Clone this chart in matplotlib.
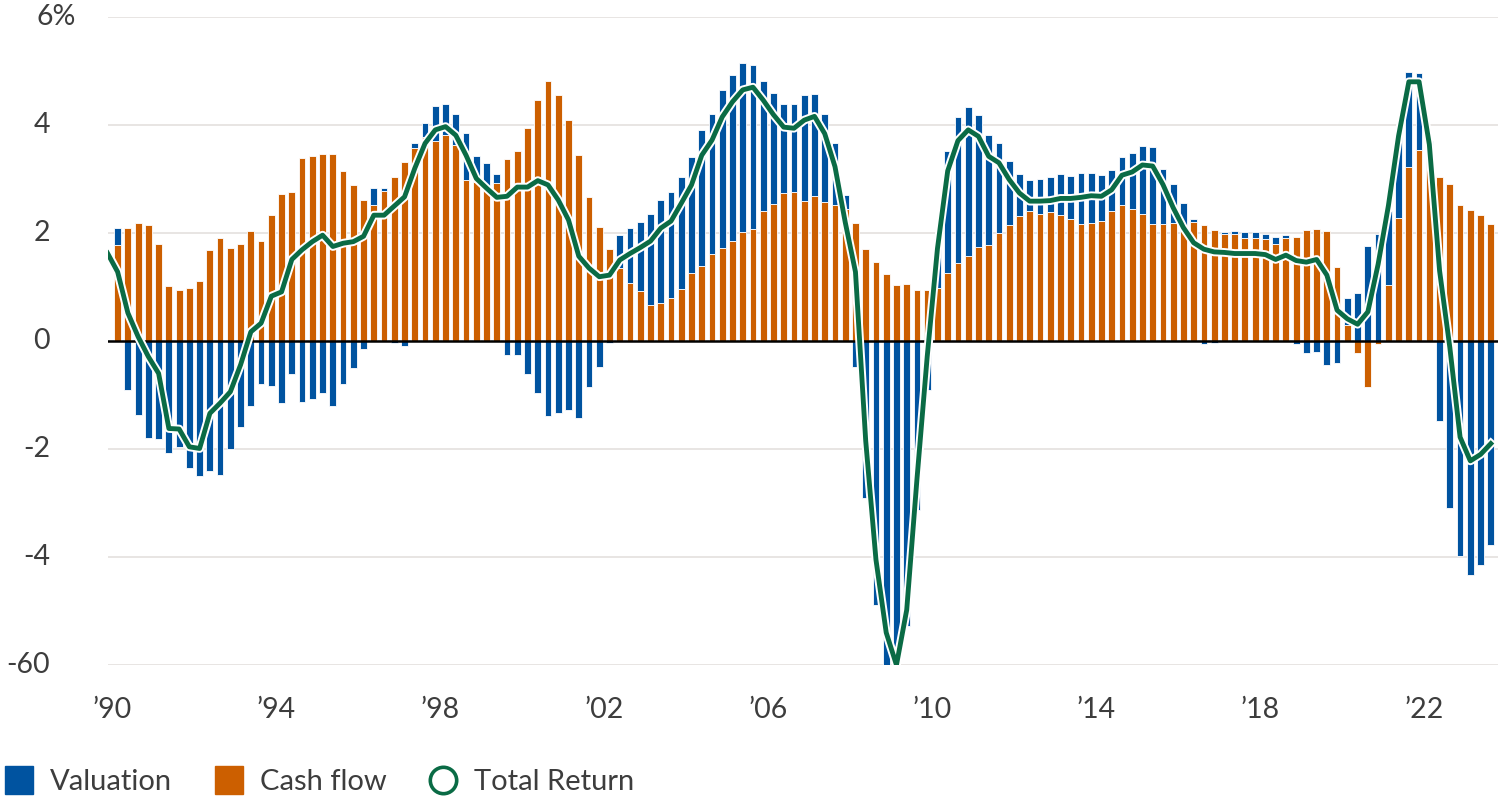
import matplotlib
matplotlib.use('Agg')
import matplotlib.pyplot as plt
import numpy as np
from matplotlib import patheffects as pe
from matplotlib.lines import Line2D

plt.rcParams['font.family'] = ['Lato', 'DejaVu Sans']

# ---------------- data (quarterly, from 1990 Q1) ----------------
start_year = 1990

cash_flow = [
    1.78, 2.10, 2.18, 2.15, 1.79, 1.02, 0.94, 0.98, 1.11, 1.69,
    1.90, 1.73, 1.79, 2.04, 1.85, 2.33, 2.72, 2.76, 3.38, 3.43,
    3.46, 3.46, 3.15, 2.88, 2.61, 2.52, 2.78, 3.04, 3.32, 3.58,
    3.77, 3.71, 3.82, 3.63, 2.98, 2.95, 2.80, 2.92, 3.37, 3.52,
    3.94, 4.46, 4.81, 4.56, 4.09, 3.44, 2.67, 2.12, 1.71, 1.35,
    1.07, 0.93, 0.66, 0.70, 0.79, 0.97, 1.25, 1.38, 1.62, 1.72,
    1.85, 2.01, 2.08, 2.41, 2.53, 2.74, 2.75, 2.59, 2.68, 2.57,
    2.52, 2.45, 2.19, 1.71, 1.47, 1.24, 1.03, 1.05, 0.94, 0.94,
    0.98, 1.26, 1.44, 1.58, 1.74, 1.78, 2.00, 2.15, 2.31, 2.41,
    2.35, 2.39, 2.33, 2.26, 2.17, 2.19, 2.23, 2.40, 2.51, 2.44,
    2.36, 2.16, 2.17, 2.19, 2.04, 2.21, 2.14, 2.05, 1.98, 1.99,
    1.90, 1.90, 1.88, 1.80, 1.91, 1.93, 2.05, 2.08, 2.03, 1.37,
    0.30, -0.22, -0.86, -0.05, 1.04, 2.27, 3.22, 3.54, 3.60, 3.04,
    2.91, 2.51, 2.42, 2.33, 2.17,
]

valuation = [
    0.31, -0.91, -1.37, -1.79, -1.82, -2.08, -1.97, -2.36, -2.50, -2.40,
    -2.48, -2.00, -1.60, -1.20, -0.79, -0.83, -1.15, -0.62, -1.13, -1.07,
    -0.96, -1.20, -0.79, -0.50, -0.15, 0.31, 0.06, -0.03, -0.10, 0.09,
    0.27, 0.64, 0.57, 0.57, 0.87, 0.48, 0.49, 0.17, -0.26, -0.26,
    -0.62, -0.96, -1.39, -1.33, -1.28, -1.42, -0.86, -0.48, -0.03, 0.61,
    1.03, 1.28, 1.69, 1.92, 1.96, 2.07, 2.15, 2.53, 2.58, 2.93,
    3.08, 3.13, 3.04, 2.40, 2.07, 1.65, 1.64, 1.96, 1.89, 1.64,
    1.14, 0.25, -0.48, -2.90, -4.88, -6.30, -6.50, -5.28, -3.13, -0.91,
    0.90, 2.25, 2.70, 2.75, 2.44, 2.04, 1.67, 1.18, 0.78, 0.57,
    0.65, 0.64, 0.76, 0.79, 0.94, 0.92, 0.84, 0.77, 0.90, 1.04,
    1.26, 1.44, 1.02, 0.71, 0.51, 0.04, -0.05, -0.04, 0.04, 0.05,
    0.12, 0.12, 0.10, 0.13, 0.05, -0.05, -0.22, -0.21, -0.45, -0.40,
    0.49, 0.88, 1.75, 1.98, 1.36, 1.58, 1.76, 1.42, 0.10, -1.49,
    -3.10, -3.99, -4.33, -4.14, -3.77,
]

# total return starts one quarter before the first bar (1989 Q4)
total_return = [
    1.63,
    1.28, 0.52, 0.08, -0.29, -0.60, -1.62, -1.63, -1.96, -1.99, -1.34,
    -1.15, -0.94, -0.44, 0.17, 0.33, 0.83, 0.91, 1.51, 1.69, 1.84,
    1.96, 1.75, 1.81, 1.84, 1.94, 2.33, 2.33, 2.50, 2.67, 3.20,
    3.66, 3.91, 3.97, 3.81, 3.44, 3.01, 2.83, 2.66, 2.68, 2.85,
    2.85, 2.97, 2.89, 2.61, 2.24, 1.57, 1.35, 1.19, 1.22, 1.50,
    1.62, 1.73, 1.85, 2.09, 2.22, 2.55, 2.89, 3.44, 3.72, 4.15,
    4.43, 4.65, 4.70, 4.46, 4.19, 3.96, 3.94, 4.09, 4.16, 3.84,
    3.23, 2.20, 1.28, -1.85, -4.05, -5.40, -6.00, -4.98, -2.56, -0.29,
    1.71, 3.15, 3.71, 3.91, 3.79, 3.42, 3.30, 2.99, 2.74, 2.59,
    2.59, 2.60, 2.64, 2.64, 2.66, 2.69, 2.68, 2.80, 3.07, 3.13,
    3.26, 3.24, 2.90, 2.47, 2.10, 1.82, 1.70, 1.65, 1.64, 1.62,
    1.62, 1.62, 1.60, 1.51, 1.59, 1.49, 1.46, 1.51, 1.22, 0.57,
    0.41, 0.31, 0.54, 1.42, 2.50, 3.80, 4.80, 4.80, 3.64, 1.30,
    -0.12, -1.78, -2.22, -2.10, -1.90,
]

y_ticks = [-6, -4, -2, 0, 2, 4, 6]
y_labels = ['-60', '-4', '-2', '0', '2', '4', '6%']
x_tick_years = [1990, 1994, 1998, 2002, 2006, 2010, 2014, 2018, 2022]
x_tick_labels = ['\u201990', '\u201994', '\u201998', '\u201902', '\u201906',
                 '\u201910', '\u201914', '\u201918', '\u201922']
legend_labels = ['Valuation', 'Cash flow', 'Total Return']

# ---------------- styling ----------------
BLUE = '#0053A0'
ORANGE = '#CC5F00'
GREEN = '#0A6B45'
GRID = '#E6E3E0'
TEXT = '#3D3D3D'
FS = 20.5
LFS = 21

W, H = 1504, 806
fig = plt.figure(figsize=(W / 100, H / 100), dpi=100)
ax = fig.add_axes([108 / W, 1 - 665 / H, (1498 - 108) / W, (665 - 17) / H])

cf = np.array(cash_flow)
val = np.array(valuation)
n = len(cf)
x = start_year + 0.125 + 0.25 * np.arange(n)
x_line = start_year - 0.125 + 0.25 * np.arange(len(total_return))

# relative stacking: same-sign values stack, opposite signs start at zero
val_bottom = np.where(np.sign(val) == np.sign(cf), cf, 0.0)

bw = 0.165
ax.bar(x, cf, width=bw, color=ORANGE, edgecolor='white', linewidth=0.6, zorder=2)
ax.bar(x, val, bottom=val_bottom, width=bw, color=BLUE, edgecolor='white',
       linewidth=0.6, zorder=2)
ax.axhline(0, color='black', lw=1.8, zorder=3)
ax.plot(x_line, total_return, color=GREEN, lw=3.5, zorder=4,
        path_effects=[pe.Stroke(linewidth=6.3, foreground='white'), pe.Normal()])

ax.set_ylim(-6, 6)
ax.set_xlim(1989.89, 2023.80)
ax.set_yticks(y_ticks)
ax.yaxis.grid(True, color=GRID, lw=1.3)
ax.set_axisbelow(True)
ax.tick_params(axis='y', length=0, labelleft=False)
for s in ax.spines.values():
    s.set_visible(False)

ax.set_xticks(x_tick_years)
ax.set_xticklabels(x_tick_labels, fontsize=FS, color=TEXT)
ax.tick_params(axis='x', length=0, pad=23)

ytr = ax.get_yaxis_transform()
for v, lab in zip(y_ticks, y_labels):
    if lab.endswith('%'):
        ax.annotate(lab, xy=(0, v), xycoords=ytr, xytext=(-72, 0),
                    textcoords='offset pixels', ha='left', va='center',
                    fontsize=FS, color=TEXT, annotation_clip=False)
    else:
        ax.annotate(lab, xy=(0, v), xycoords=ytr, xytext=(-58, 0),
                    textcoords='offset pixels', ha='right', va='center',
                    fontsize=FS, color=TEXT, annotation_clip=False)

handles = [
    Line2D([], [], marker='s', linestyle='none', markersize=20,
           markerfacecolor=BLUE, markeredgecolor=BLUE),
    Line2D([], [], marker='s', linestyle='none', markersize=20,
           markerfacecolor=ORANGE, markeredgecolor=ORANGE),
    Line2D([], [], marker='o', linestyle='none', markersize=19,
           markerfacecolor='white', markeredgecolor=GREEN, markeredgewidth=2.6),
]
leg = fig.legend(handles, legend_labels, loc='center left',
                 bbox_to_anchor=(0.0, (H - 782) / H), ncol=3, frameon=False,
                 fontsize=LFS, handlelength=1.3, handletextpad=0.41,
                 columnspacing=1.3, borderpad=0, borderaxespad=0)
for t in leg.get_texts():
    t.set_color(TEXT)

fig.savefig('out.png', dpi=100)
